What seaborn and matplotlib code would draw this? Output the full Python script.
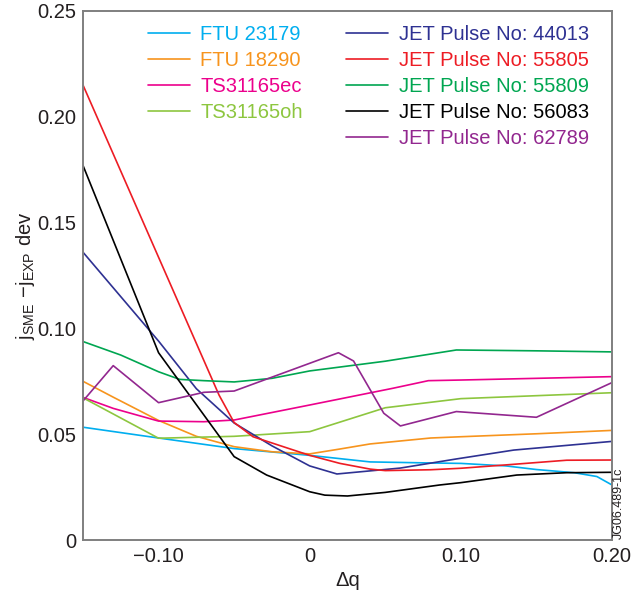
import numpy as np
import pandas as pd
import matplotlib
matplotlib.use('Agg')
import matplotlib.pyplot as plt
from matplotlib.lines import Line2D
import seaborn as sns

# %% data (Δq vs j_SME - j_EXP dev)
ftu23179_x = [-0.15, -0.10, -0.07, -0.05, 0.0, 0.04, 0.08, 0.10, 0.13, 0.15, 0.175, 0.19, 0.20]
ftu23179_y = [0.0533, 0.0482, 0.0452, 0.0432, 0.0400, 0.0369, 0.0364, 0.0362, 0.0350, 0.0333, 0.0318, 0.0300, 0.0260]

ftu18290_x = [-0.15, -0.13, -0.10, -0.075, -0.05, -0.025, 0.0, 0.02, 0.04, 0.06, 0.08, 0.10, 0.15, 0.20]
ftu18290_y = [0.0750, 0.0675, 0.0565, 0.0490, 0.0441, 0.0417, 0.0407, 0.0430, 0.0454, 0.0468, 0.0482, 0.0488, 0.0502, 0.0518]

ts_ec_x = [-0.15, -0.13, -0.10, -0.07, -0.05, 0.0, 0.055, 0.0785, 0.10, 0.15, 0.20]
ts_ec_y = [0.0674, 0.0622, 0.0562, 0.0559, 0.0567, 0.0638, 0.0717, 0.0753, 0.0756, 0.0764, 0.0772]

ts_oh_x = [-0.15, -0.10, -0.05, 0.0, 0.05, 0.10, 0.15, 0.20]
ts_oh_y = [0.0672, 0.0481, 0.0490, 0.0512, 0.0625, 0.0668, 0.0682, 0.0696]

jet44013_x = [-0.15, -0.10, -0.075, -0.05, -0.025, 0.0, 0.018, 0.06, 0.097, 0.135, 0.20]
jet44013_y = [0.1360, 0.0940, 0.0715, 0.0553, 0.0445, 0.0350, 0.0312, 0.0340, 0.0383, 0.0425, 0.0466]

jet55805_x = [-0.15, -0.06, -0.05, -0.0375, -0.0175, 0.0, 0.02, 0.04, 0.05, 0.08, 0.10, 0.13, 0.15, 0.17, 0.20]
jet55805_y = [0.2150, 0.0685, 0.0555, 0.0488, 0.0441, 0.0400, 0.0362, 0.0335, 0.0328, 0.0332, 0.0339, 0.0355, 0.0366, 0.0377, 0.0378]

jet55809_x = [-0.15, -0.125, -0.10, -0.086, -0.07, -0.05, -0.025, 0.0, 0.05, 0.097, 0.15, 0.20]
jet55809_y = [0.0938, 0.0874, 0.0795, 0.0759, 0.0753, 0.0747, 0.0764, 0.0799, 0.0845, 0.0898, 0.0894, 0.0889]

jet56083_x = [-0.15, -0.10, -0.05, -0.0285, 0.0, 0.01, 0.025, 0.05, 0.086, 0.10, 0.137, 0.17, 0.20]
jet56083_y = [0.1770, 0.0885, 0.0394, 0.0307, 0.0228, 0.0212, 0.0208, 0.0225, 0.0260, 0.0271, 0.0307, 0.0318, 0.0320]

jet62789_x = [-0.15, -0.13, -0.10, -0.07, -0.05, 0.019, 0.029, 0.049, 0.06, 0.097, 0.15, 0.20]
jet62789_y = [0.0657, 0.0824, 0.0649, 0.0698, 0.0704, 0.0885, 0.0846, 0.0599, 0.0539, 0.0607, 0.0580, 0.0744]

labels = ['FTU 23179', 'FTU 18290', 'TS31165ec', 'TS31165oh',
          'JET Pulse No: 44013', 'JET Pulse No: 55805', 'JET Pulse No: 55809',
          'JET Pulse No: 56083', 'JET Pulse No: 62789']
colors = ['#00AEEF', '#F7941D', '#EC008C', '#8DC63F',
          '#2E3192', '#ED1C24', '#00A651', '#000000', '#92278F']
xs = [ftu23179_x, ftu18290_x, ts_ec_x, ts_oh_x, jet44013_x, jet55805_x, jet55809_x, jet56083_x, jet62789_x]
ys = [ftu23179_y, ftu18290_y, ts_ec_y, ts_oh_y, jet44013_y, jet55805_y, jet55809_y, jet56083_y, jet62789_y]

df = pd.concat([pd.DataFrame({'dq': x, 'dev': y, 'series': lab}) for x, y, lab in zip(xs, ys, labels)],
               ignore_index=True)
palette = dict(zip(labels, colors))

# %% plot
sns.set_style('white')
plt.rcParams['font.family'] = ['Liberation Sans', 'DejaVu Sans']
plt.rcParams['mathtext.fontset'] = 'custom'
plt.rcParams['mathtext.rm'] = 'Liberation Sans'

fig = plt.figure(figsize=(6.34, 5.99), dpi=100)
ax = fig.add_axes([83 / 634, 59 / 599, 529 / 634, 529 / 599])

sns.lineplot(data=df, x='dq', y='dev', hue='series', hue_order=labels, palette=palette,
             estimator=None, sort=False, legend=False, linewidth=1.2, ax=ax)

ax.set_xlim(-0.15, 0.20)
ax.set_ylim(0, 0.25)

xticks_major = [-0.10, 0.0, 0.10, 0.20]
xtick_labels = ['\u22120.10', '0', '0.10', '0.20']
ax.set_xticks(xticks_major)
ax.set_xticklabels(xtick_labels)
ax.set_xticks([-0.05, 0.05, 0.15], minor=True)
yticks = [0, 0.05, 0.10, 0.15, 0.20, 0.25]
ax.set_yticks(yticks)
ax.set_yticklabels(['0', '0.05', '0.10', '0.15', '0.20', '0.25'])

spine_col = '#7f7f7f'
for s in ax.spines.values():
    s.set_color(spine_col)
    s.set_linewidth(1.4)
ax.tick_params(axis='both', which='major', direction='in', length=12, width=1.2,
               color=spine_col, labelsize=14.5, labelcolor='#231f20', pad=5)
ax.tick_params(axis='x', which='minor', direction='in', length=6, width=1.2, color=spine_col)
ax.tick_params(top=False, right=False)

ax.set_xlabel('\u0394q', fontsize=14.5, color='#231f20')
ax.xaxis.set_label_coords(0.5, -0.058)
ax.set_ylabel(r'$\mathregular{j_{SME}\ {-}j_{EXP}\ dev}$', fontsize=14.5, color='#231f20')
ax.yaxis.set_label_coords(-0.087, 0.5)

# legend: two columns, 4 + 5 entries, text coloured like the lines
handles = [Line2D([], [], color=c, linewidth=1.2) for c in colors]
handles = handles[:4] + [Line2D([], [], color='none')] + handles[4:]
leg_labels = labels[:4] + [''] + labels[4:]
leg = fig.legend(handles, leg_labels, ncol=2, frameon=False, fontsize=14.5,
                 loc='upper left', bbox_to_anchor=(148 / 634, 1 - 25 / 599),
                 borderpad=0, borderaxespad=0, handlelength=2.1, handletextpad=0.5,
                 columnspacing=2.15, labelspacing=0.35)
for txt, c in zip(leg.get_texts(), colors[:4] + ['none'] + colors[4:]):
    txt.set_color(c)

fig.text(619 / 634, 60 / 599, 'JG06.489-1c', rotation=90, fontsize=9,
         ha='center', va='bottom', color='#231f20')

fig.savefig('out.png', dpi=100)
